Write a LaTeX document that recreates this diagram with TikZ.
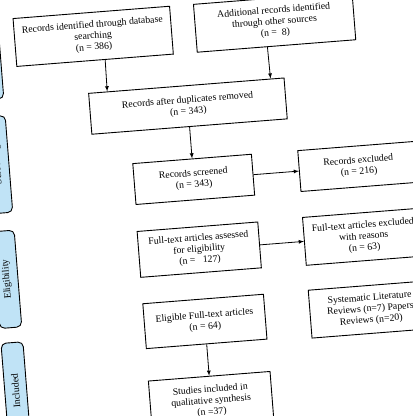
\documentclass[tikz,border=0pt]{standalone}
\usepackage{fontspec}
\setmainfont{Liberation Serif}
\usetikzlibrary{calc}
\definecolor{phaseblue}{RGB}{192,227,246}

\begin{document}
\begin{tikzpicture}[x=1pt, y=1pt,
    flowbox/.style={draw, line width=0.9pt, fill=white, align=center, inner sep=0.5pt,
      font=\fontsize{9.8}{11.2}\selectfont},
    phasebar/.style={draw, line width=0.9pt, rounded corners=5pt, fill=phaseblue,
      minimum width=22pt, minimum height=97pt},
    phasetext/.style={rotate=90, font=\fontsize{9.8}{11.2}\selectfont},
    flowarrow/.style={->, >=latex, line width=0.8pt}]
  \useasboundingbox (0,0) rectangle (413,416);
  \clip (0,0) rectangle (413,416);

  \begin{scope}[shift={(206,208)}, rotate=4.5, transform shape]
  % phases on the left
  \node[phasebar] (pid) at (-204,173.5) {};
  \node[phasetext] at ([xshift=-6pt]pid.center) {Identification};
  \node[phasebar] (pscr) at (-204,59.5) {};
  \node[phasetext] at (pscr) {Screening};
  \node[phasebar] (pelig) at (-204,-55.5) {};
  \node[phasetext] at (pelig) {Eligibility};
  \node[phasebar] (pinc) at (-204,-167.5) {};
  \node[phasetext] at (pinc) {Included};

  % boxes
  \node[flowbox, minimum width=157pt, minimum height=48pt] (ident) at (-99,180)
  {Records identified through database\\searching\\(n = 386)};
  \node[flowbox, minimum width=159pt, minimum height=48pt] (other) at (83,180)
  {Additional records identified\\through other sources\\(n =~~8)};
  \node[flowbox, minimum width=196pt, minimum height=41pt] (dup) at (-10,103)
  {Records after duplicates removed\\(n = 343)};
  \node[flowbox, minimum width=119pt, minimum height=41pt] (screen) at (-10,29.5)
  {Records screened\\(n = 343)};
  \node[flowbox, minimum width=119pt, minimum height=41pt] (excl) at (155.5,29.5)
  {Records excluded\\(n = 216)};
  \node[flowbox, minimum width=121pt, minimum height=46pt] (full) at (-10,-41)
  {Full-text articles assessed\\for eligibility\\(n =~~~127)};
  \node[flowbox, minimum width=119pt, minimum height=48pt] (fexcl) at (155,-41)
  {Full-text articles excluded\\with reasons\\(n = 63)};
  \node[flowbox, minimum width=121pt, minimum height=45pt] (elig) at (-10,-113)
  {Eligible Full-text articles\\(n = 64)};
  \node[flowbox, minimum width=121pt, minimum height=48pt] (sys) at (156,-114)
  {Systematic Literature\\Reviews (n=7) Papers\\Reviews (n=20)};
  \node[flowbox, minimum width=122pt, minimum height=50pt] (incl) at (-10,-193)
  {Studies included in\\qualitative synthesis\\(n =37)};

  % arrows
  \draw[flowarrow] ($(ident.south west)!0.564!(ident.south east)$)
    -- ($(dup.north west)!0.097!(dup.north east)$);
  \draw[flowarrow] ($(other.south west)!0.443!(other.south east)$)
    -- ($(dup.north west)!0.929!(dup.north east)$);
  \draw[flowarrow] (dup) -- (screen);
  \draw[flowarrow] (screen) -- (excl);
  \draw[flowarrow] (full) -- (fexcl);
  \draw[flowarrow] (elig) -- (incl);
  \end{scope}
\end{tikzpicture}
\end{document}
